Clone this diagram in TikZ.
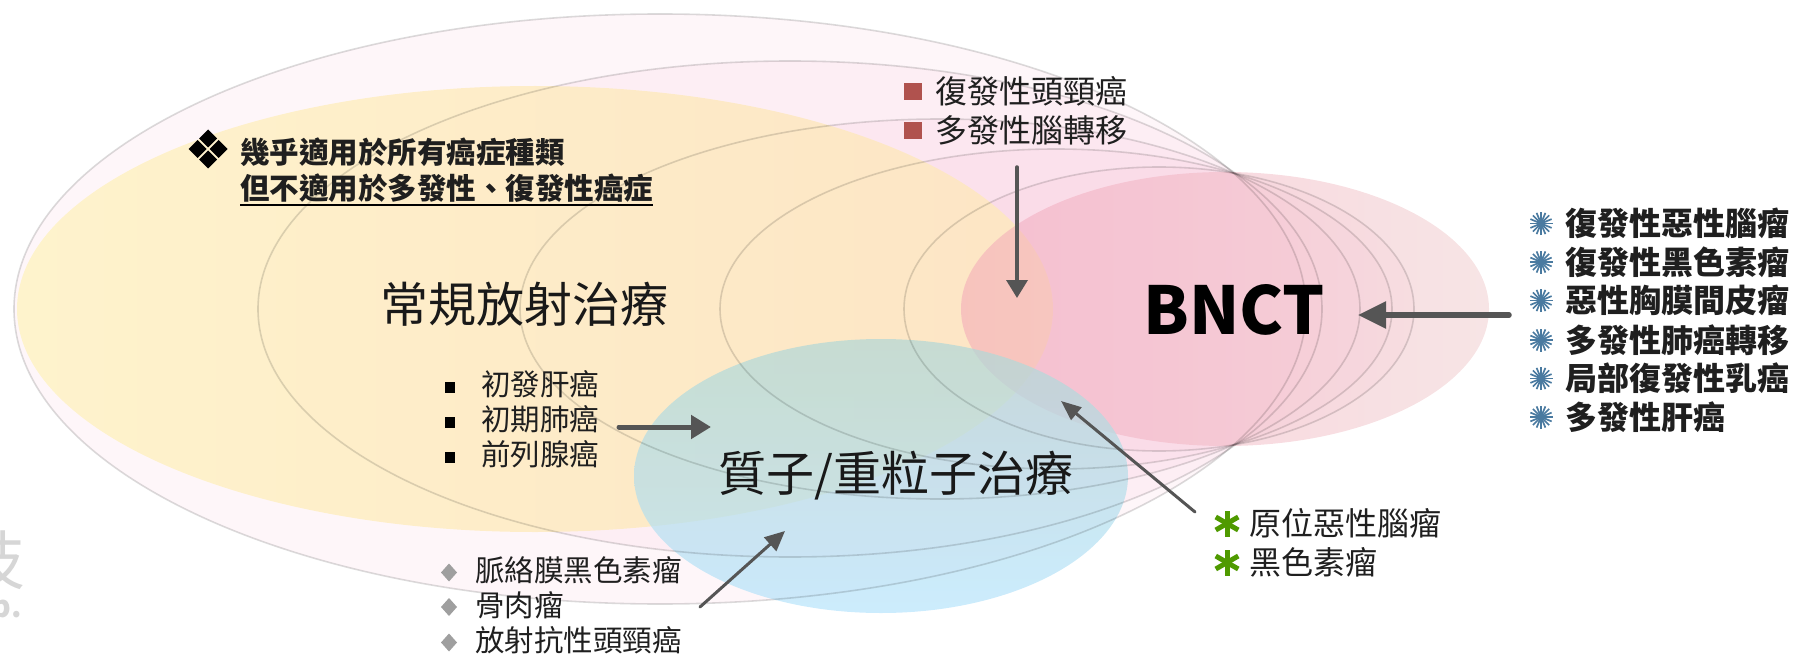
\documentclass[tikz,border=0pt]{standalone}
\usepackage{fontspec}
\newfontfamily\cjk{Noto Sans CJK TC}
\usetikzlibrary{arrows.meta}
\newcommand\setfs[1]{\fontsize{#1}{#1}\selectfont}
\definecolor{pk}{HTML}{F5B5CF}
\definecolor{ylL}{HTML}{FFF3C8}
\definecolor{ylR}{HTML}{FEE6C2}
\definecolor{bnL}{HTML}{F2A2B8}
\definecolor{bnR}{HTML}{F0CACB}
\definecolor{blT}{HTML}{B2D8D6}
\definecolor{blB}{HTML}{B8E4FC}
\definecolor{arr}{HTML}{555555}
\definecolor{redsq}{HTML}{B0524E}
\definecolor{bluestar}{HTML}{4A7AA0}
\definecolor{greenstar}{HTML}{4F9A00}
\definecolor{wm}{HTML}{D6D6D6}
\tikzset{
  ringfill/.style={fill=pk, fill opacity=0.12},
  ring/.style={draw=black, draw opacity=0.14, line width=1.6pt},
  big/.style={font=\cjk\setfs{48}, inner sep=0pt, text=black!90},
  lbl/.style={inner sep=0pt, anchor=west, text=black!88},
  lblA/.style={lbl, font=\cjk\setfs{32}},
  lblB/.style={lbl, font=\cjk\bfseries\setfs{32}},
  lblC/.style={lbl, font=\cjk\setfs{29.5}},
  lblD/.style={lbl, font=\cjk\bfseries\setfs{29.5}},
  pointer/.style={draw=arr, line cap=round, line width=#1},
  pointer/.default=3.5pt,
}
\begin{document}
\begin{tikzpicture}[x=1pt,y=-1pt]
\useasboundingbox (0,0) rectangle (1793,655);

% watermark fragments at the left edge
\node[inner sep=0pt, anchor=east, text=wm, font=\cjk\setfs{64}] (wm1) at (26,560) {技};
\node[inner sep=0pt, anchor=east, text=wm, font=\cjk\bfseries\setfs{30}] (wm2) at (22,612) {p.};

% nested faint pink ellipses (fills)
\path[ringfill] (660,309) ellipse [x radius=646, y radius=295];
\path[ringfill] (790,309) ellipse [x radius=532, y radius=248];
\path[ringfill] (940,309) ellipse [x radius=420, y radius=190];
\path[ringfill] (1056,309) ellipse [x radius=336, y radius=160];
\path[ringfill] (1159,309) ellipse [x radius=255, y radius=142];

% conventional radiotherapy (yellow)
\shade[left color=ylL, right color=ylR, fill opacity=0.92] (535,309) ellipse [x radius=518, y radius=223];
% BNCT (pink)
\shade[left color=bnL, right color=bnR, fill opacity=0.5] (1225,309) ellipse [x radius=264, y radius=137];
% proton / heavy ion (blue)
\shade[top color=blT, bottom color=blB, fill opacity=0.72] (881,476) ellipse [x radius=247, y radius=137];

% outlines of the nested ellipses
\draw[ring] (660,309) ellipse [x radius=646, y radius=295];
\draw[ring] (790,309) ellipse [x radius=532, y radius=248];
\draw[ring] (940,309) ellipse [x radius=420, y radius=190];
\draw[ring] (1056,309) ellipse [x radius=336, y radius=160];
\draw[ring] (1159,309) ellipse [x radius=255, y radius=142];

% main labels
\node[big] (crt) at (524,304) {常規放射治療};
\node[big] (pht) at (896,476) {質子/重粒子治療};
\node[inner sep=0pt, font=\cjk\bfseries\setfs{66}, text=black] (bnct) at (1234,310) {BNCT};

% top-left note
\foreach \dx/\dy in {0/-10.5, 0/10.5, -10.5/0, 10.5/0}
  \fill[black] (208+\dx,149+\dy) +(0,-9) -- +(9,0) -- +(0,9) -- +(-9,0) -- cycle;
\node[lblD] (tl1) at (240,152) {幾乎適用於所有癌症種類};
\node[lblD] (tl2) at (240,188) {但不適用於多發性、復發性癌症};
\draw[line width=2pt, black] ([yshift=-2pt]tl2.south west) -- ([yshift=-2pt]tl2.south east);

% top list (red squares)
\fill[redsq] (904,83) rectangle (922,100);
\fill[redsq] (904,122) rectangle (922,139);
\node[lblA] (t1) at (935,91.5) {復發性頭頸癌};
\node[lblA] (t2) at (935,130) {多發性腦轉移};

% right list (blue bursts)
\foreach \y [count=\i] in {223.5,262,300.5,340,378.5,417} {
  \foreach \a in {0,22.5,...,157.5}
    \draw[bluestar, line width=1.7pt] (1541,\y) +(\a:11.5) -- +(\a+180:11.5);
}
\node[lblB] (r1) at (1565,223.5) {復發性惡性腦瘤};
\node[lblB] (r2) at (1565,262) {復發性黑色素瘤};
\node[lblB] (r3) at (1565,300.5) {惡性胸膜間皮瘤};
\node[lblB] (r4) at (1565,340) {多發性肺癌轉移};
\node[lblB] (r5) at (1565,378.5) {局部復發性乳癌};
\node[lblB] (r6) at (1565,417) {多發性肝癌};

% green list
\foreach \y in {523.5,562.5}
  \foreach \a in {90,30,150}
    \draw[greenstar, line width=5pt] (1227,\y) +(\a:13) -- +(\a+180:13);
\node[lblA] (g1) at (1249,523.5) {原位惡性腦瘤};
\node[lblA] (g2) at (1249,562.5) {黑色素瘤};

% middle list (black squares)
\foreach \y in {384.5,419.5,454.5}
  \fill[black] (445,\y-3) rectangle (455,\y+8);
\node[lblC] (m1) at (481,384.5) {初發肝癌};
\node[lblC] (m2) at (481,419.5) {初期肺癌};
\node[lblC] (m3) at (481,454.5) {前列腺癌};

% bottom-left list (gray diamonds)
\foreach \y in {570.5,605,640.5}
  \fill[gray!75] (449,\y+2) +(0,-9) -- +(8,0) -- +(0,9) -- +(-8,0) -- cycle;
\node[lblC] (b1) at (475,570.5) {脈絡膜黑色素瘤};
\node[lblC] (b2) at (475,605) {骨肉瘤};
\node[lblC] (b3) at (475,640.5) {放射抗性頭頸癌};

% arrows
\coordinate (a1s) at (1017,167);  \coordinate (a1e) at (1017,298);
\coordinate (a2s) at (1509,315);  \coordinate (a2e) at (1358,315);
\coordinate (a3s) at (619,427);   \coordinate (a3e) at (711,427);
\coordinate (a4s) at (700,607);   \coordinate (a4e) at (785,531);
\coordinate (a5s) at (1195,512);  \coordinate (a5e) at (1061,401);
\draw[pointer=3.5pt, -{Triangle[width=21pt,length=18pt]}] (a1s) -- (a1e);
\draw[pointer=5.5pt, -{Triangle[width=26pt,length=28pt]}] (a2s) -- (a2e);
\draw[pointer=5pt, -{Triangle[width=23pt,length=20pt]}] (a3s) -- (a3e);
\draw[pointer=3pt, -{Triangle[width=18pt,length=20pt]}] (a4s) -- (a4e);
\draw[pointer=3pt, -{Triangle[width=16pt,length=20pt]}] (a5s) -- (a5e);
\end{tikzpicture}
\end{document}
